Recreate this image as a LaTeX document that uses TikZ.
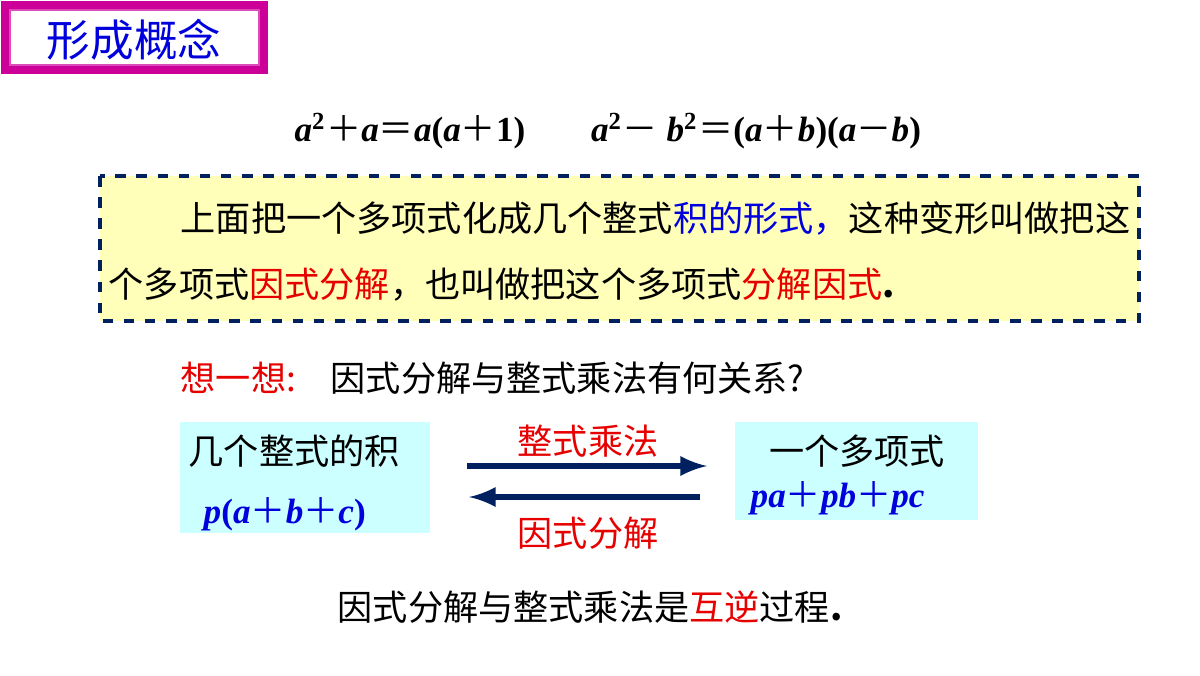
\documentclass[tikz,border=0pt]{standalone}
\usepackage{fontspec}
\setmainfont{Liberation Serif}
\newfontfamily\cjk{Noto Sans CJK SC}
\newcommand{\lt}[1]{{\bfseries\itshape #1}}
\newcommand{\up}[1]{{\bfseries #1}}
\definecolor{titlemag}{RGB}{204,0,153}
\definecolor{txtblue}{RGB}{0,0,220}
\definecolor{txtred}{RGB}{230,0,0}
\definecolor{noteyel}{RGB}{255,255,185}
\definecolor{boxcyan}{RGB}{204,255,255}
\definecolor{arrnavy}{RGB}{0,32,96}

\begin{document}
\begin{tikzpicture}[x=0.01cm,y=-0.01cm,
  body/.style={font=\cjk\fontsize{10}{12}\selectfont, inner sep=0pt},
  eqn/.style={font=\fontsize{10}{12}\selectfont, inner sep=0pt},
  flow/.style={arrnavy, line width=1.6pt, -latex}]
  \useasboundingbox (0,0) rectangle (1200,675);
  % title box
  \draw[titlemag, line width=2pt, fill=white] (5,5) rectangle (264,70);
  \draw[titlemag!70, line width=0.4pt] (10,10) rectangle (259,65);
  \node[body, font=\cjk\fontsize{12.4}{14}\selectfont, txtblue] (title) at (134,40) {形成概念};
  % the two identities
  \node[eqn] (eqa) at (410,131) {\lt{a}\textsuperscript{\up{2}}{\cjk＋}\lt{a}{\cjk＝}\lt{a}\up{(}\lt{a}{\cjk＋}\up{1)}};
  \node[eqn] (eqb) at (756,131) {\lt{a}\textsuperscript{\up{2}}{\cjk－} \lt{b}\textsuperscript{\up{2}}{\cjk＝}\up{(}\lt{a}{\cjk＋}\lt{b}\up{)(}\lt{a}{\cjk－}\lt{b}\up{)}};
  % definition
  \draw[arrnavy, dashed, line width=1.2pt, fill=noteyel] (100,176) rectangle (1139,321);
  \node[body, anchor=west] (def1) at (180,218) {上面把一个多项式化成几个整式\textcolor{txtblue}{积的形式，}这种变形叫做把这};
  \node[body, anchor=west] (def2) at (108,284) {个多项式\textcolor{txtred}{因式分解}，也叫做把这个多项式\textcolor{txtred}{分解因式}\up{.}};
  % question
  \node[body, anchor=west, txtred] (think) at (180,378) {想一想:};
  \node[body, anchor=west] (ask) at (330,378) {因式分解与整式乘法有何关系?};
  % two sides
  \fill[boxcyan] (180,422) rectangle (430,533);
  \fill[boxcyan] (735,422) rectangle (978,520);
  \node[body, anchor=west] (prod) at (188,451) {几个整式的积};
  \node[eqn, anchor=west, txtblue] (prodf) at (203,514) {\lt{p}\up{(}\lt{a}{\cjk＋}\lt{b}{\cjk＋}\lt{c}\up{)}};
  \node[body] (poly) at (857,451) {一个多项式};
  \node[eqn, anchor=west, txtblue] (polyf) at (750,498) {\lt{pa}{\cjk＋}\lt{pb}{\cjk＋}\lt{pc}};
  \coordinate (m1) at (467,466);
  \coordinate (m2) at (707,466);
  \coordinate (f1) at (700,497);
  \coordinate (f2) at (469,497);
  \draw[flow] (m1) -- (m2);
  \draw[flow] (f1) -- (f2);
  \node[body, txtred] (mul) at (588,441) {整式乘法};
  \node[body, txtred] (fac) at (588,533) {因式分解};
  % conclusion
  \node[body] (concl) at (590,607) {因式分解与整式乘法是\textcolor{txtred}{互逆}过程\up{.}};
\end{tikzpicture}
\end{document}
